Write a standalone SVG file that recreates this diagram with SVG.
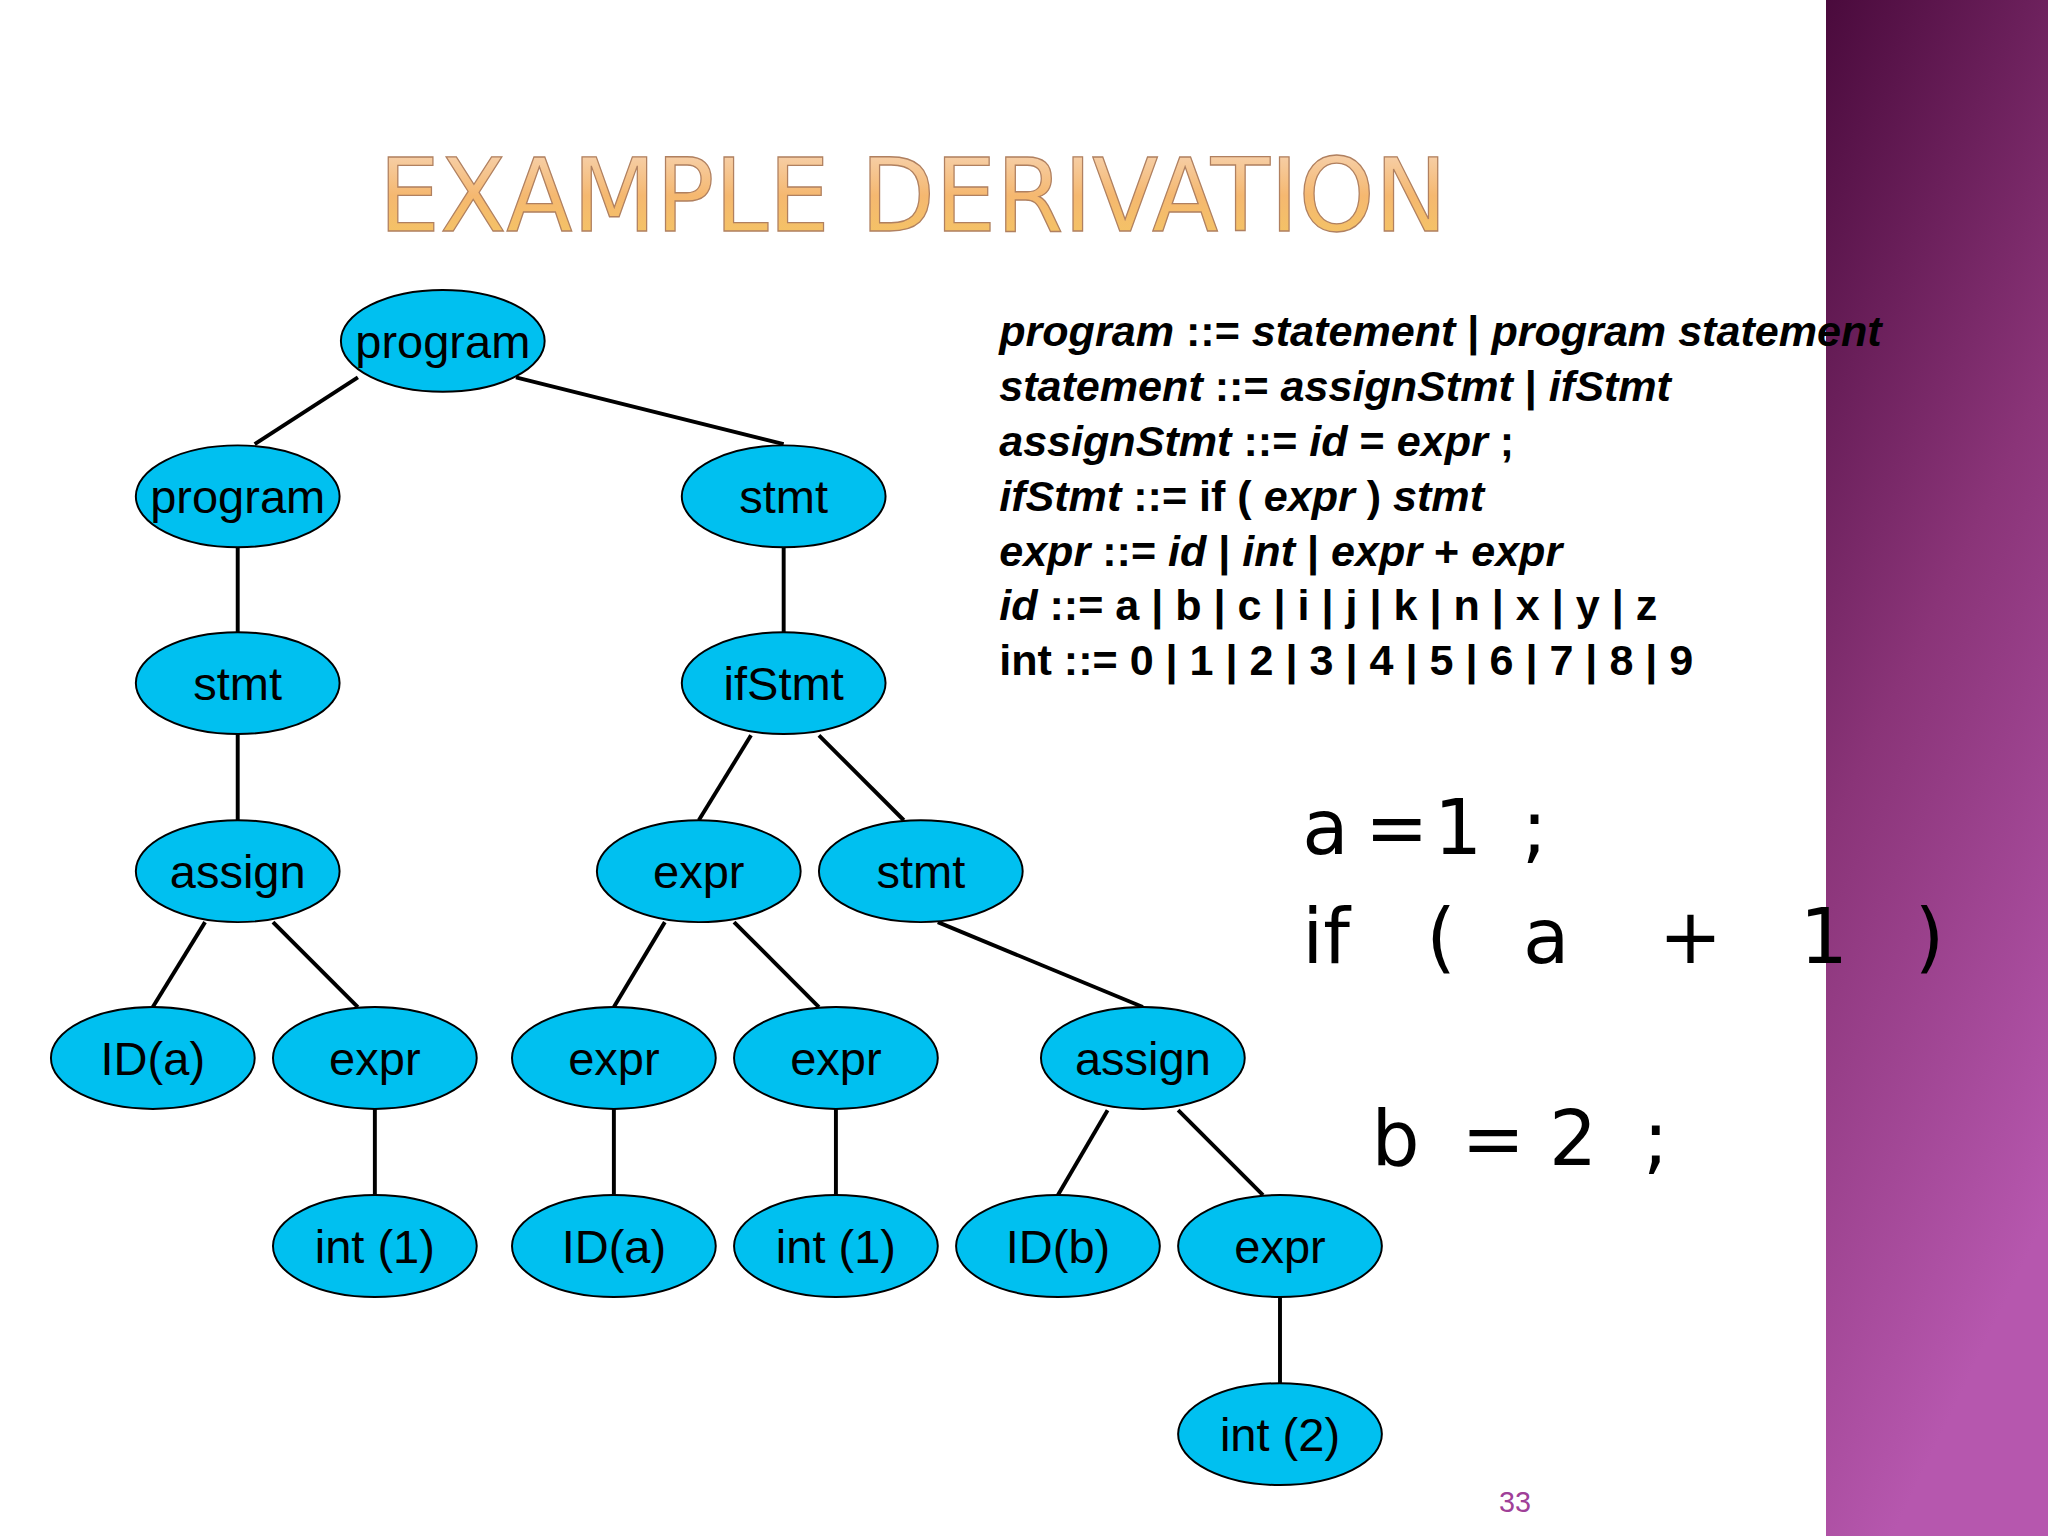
<svg xmlns="http://www.w3.org/2000/svg" width="2048" height="1536" viewBox="0 0 2048 1536">
<defs>
<linearGradient id="pg" x1="0" y1="0" x2="0.3" y2="1"><stop offset="0" stop-color="#4a0a3c"/><stop offset="0.5" stop-color="#8a3478"/><stop offset="1" stop-color="#b657ae"/></linearGradient>
<linearGradient id="tg" x1="0" y1="0" x2="0" y2="1"><stop offset="0" stop-color="#f7d9c0"/><stop offset="0.5" stop-color="#f5b870"/><stop offset="1" stop-color="#f4c860"/></linearGradient>
<style>
.n ellipse{fill:#00c0f0;stroke:#000;stroke-width:1.5}
.n text{font-family:"Liberation Sans",Arial,sans-serif;font-size:36px;text-anchor:middle;fill:#000}
#edges line{stroke:#000;stroke-width:3}
.g{font-family:"Liberation Sans",Arial,sans-serif;font-size:33px;font-weight:bold;fill:#000}
.i{font-style:italic}
.c{font-family:"DejaVu Sans",sans-serif;font-size:58px;fill:#000}
</style>
</defs>
<rect width="2048" height="1536" fill="#fff"/>
<rect x="1826" y="0" width="222" height="1536" fill="url(#pg)"/>
<g transform="scale(1.30612)">
<text x="290" y="177" font-family="DejaVu Sans,sans-serif" font-size="78" textLength="818" lengthAdjust="spacingAndGlyphs" fill="url(#tg)" stroke="#b08060" stroke-width="1">EXAMPLE DERIVATION</text>
<g id="edges">
<line x1="274" y1="289" x2="195" y2="340"/><line x1="395" y1="289" x2="600" y2="340"/>
<line x1="182" y1="418" x2="182" y2="485"/><line x1="600" y1="418" x2="600" y2="485"/>
<line x1="182" y1="561" x2="182" y2="629"/>
<line x1="575" y1="563" x2="535" y2="628"/><line x1="627" y1="563" x2="692" y2="628"/>
<line x1="157" y1="706" x2="117" y2="771"/><line x1="209" y1="706" x2="274" y2="771"/>
<line x1="509" y1="706" x2="470" y2="771"/><line x1="562" y1="706" x2="627" y2="771"/>
<line x1="718" y1="706" x2="875" y2="771"/>
<line x1="287" y1="848" x2="287" y2="916"/><line x1="470" y1="848" x2="470" y2="916"/><line x1="640" y1="848" x2="640" y2="916"/>
<line x1="848" y1="850" x2="810" y2="915"/><line x1="902" y1="850" x2="967" y2="915"/>
<line x1="980" y1="992" x2="980" y2="1060"/>
</g>
<g id="n1" class="n"><ellipse cx="339" cy="261" rx="78" ry="39"/><text x="339" y="274">program</text></g>
<g id="n2" class="n"><ellipse cx="182" cy="380" rx="78" ry="39"/><text x="182" y="393">program</text></g>
<g id="n3" class="n"><ellipse cx="600" cy="380" rx="78" ry="39"/><text x="600" y="393">stmt</text></g>
<g id="n4" class="n"><ellipse cx="182" cy="523" rx="78" ry="39"/><text x="182" y="536">stmt</text></g>
<g id="n5" class="n"><ellipse cx="600" cy="523" rx="78" ry="39"/><text x="600" y="536">ifStmt</text></g>
<g id="n6" class="n"><ellipse cx="182" cy="667" rx="78" ry="39"/><text x="182" y="680">assign</text></g>
<g id="n7" class="n"><ellipse cx="535" cy="667" rx="78" ry="39"/><text x="535" y="680">expr</text></g>
<g id="n8" class="n"><ellipse cx="705" cy="667" rx="78" ry="39"/><text x="705" y="680">stmt</text></g>
<g id="n9" class="n"><ellipse cx="117" cy="810" rx="78" ry="39"/><text x="117" y="823">ID(a)</text></g>
<g id="n10" class="n"><ellipse cx="287" cy="810" rx="78" ry="39"/><text x="287" y="823">expr</text></g>
<g id="n11" class="n"><ellipse cx="470" cy="810" rx="78" ry="39"/><text x="470" y="823">expr</text></g>
<g id="n12" class="n"><ellipse cx="640" cy="810" rx="78" ry="39"/><text x="640" y="823">expr</text></g>
<g id="n13" class="n"><ellipse cx="875" cy="810" rx="78" ry="39"/><text x="875" y="823">assign</text></g>
<g id="n14" class="n"><ellipse cx="287" cy="954" rx="78" ry="39"/><text x="287" y="967">int (1)</text></g>
<g id="n15" class="n"><ellipse cx="470" cy="954" rx="78" ry="39"/><text x="470" y="967">ID(a)</text></g>
<g id="n16" class="n"><ellipse cx="640" cy="954" rx="78" ry="39"/><text x="640" y="967">int (1)</text></g>
<g id="n17" class="n"><ellipse cx="810" cy="954" rx="78" ry="39"/><text x="810" y="967">ID(b)</text></g>
<g id="n18" class="n"><ellipse cx="980" cy="954" rx="78" ry="39"/><text x="980" y="967">expr</text></g>
<g id="n19" class="n"><ellipse cx="980" cy="1098" rx="78" ry="39"/><text x="980" y="1111">int (2)</text></g>
<text class="g" x="765" y="265"><tspan class="i">program</tspan> ::= <tspan class="i">statement</tspan> | <tspan class="i">program statement</tspan></text>
<text class="g" x="765" y="307"><tspan class="i">statement</tspan> ::= <tspan class="i">assignStmt</tspan> | <tspan class="i">ifStmt</tspan></text>
<text class="g" x="765" y="349"><tspan class="i">assignStmt</tspan> ::= <tspan class="i">id</tspan> = <tspan class="i">expr</tspan> ;</text>
<text class="g" x="765" y="391"><tspan class="i">ifStmt</tspan> ::= if ( <tspan class="i">expr</tspan> ) <tspan class="i">stmt</tspan></text>
<text class="g" x="765" y="433"><tspan class="i">expr</tspan> ::= <tspan class="i">id</tspan> | <tspan class="i">int</tspan> | <tspan class="i">expr</tspan> + <tspan class="i">expr</tspan></text>
<text class="g" x="765" y="475"><tspan class="i">id</tspan> ::= a | b | c | i | j | k | n | x | y | z</text>
<text class="g" x="765" y="517">int ::= 0 | 1 | 2 | 3 | 4 | 5 | 6 | 7 | 8 | 9</text>
<text class="c" y="654"><tspan x="997">a</tspan><tspan x="1045">=</tspan><tspan x="1098">1</tspan><tspan x="1165">;</tspan></text>
<text class="c" y="737"><tspan x="997">if</tspan><tspan x="1092">(</tspan><tspan x="1166">a</tspan><tspan x="1270">+</tspan><tspan x="1378">1</tspan><tspan x="1466">)</tspan></text>
<text class="c" y="892"><tspan x="1050">b</tspan><tspan x="1119">=</tspan><tspan x="1186">2</tspan><tspan x="1258">;</tspan></text>
<text x="1160" y="1158" text-anchor="middle" font-family="Liberation Sans,sans-serif" font-size="22" fill="#a04098">33</text>
</g>
</svg>
